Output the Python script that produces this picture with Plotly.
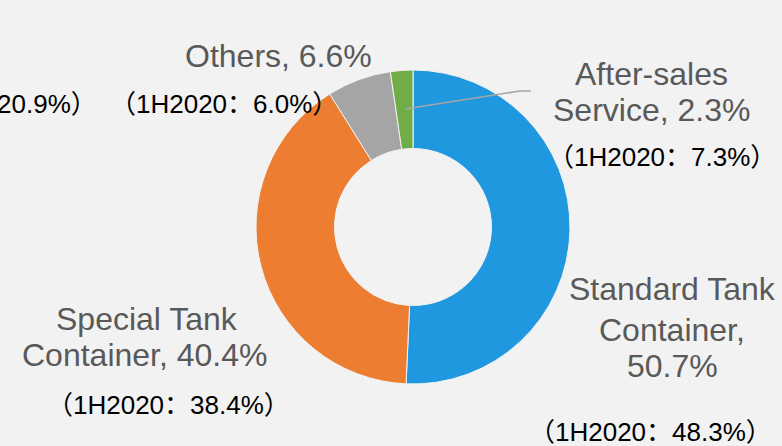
import plotly.graph_objects as go

W, H = 782, 446

segments = ["Standard Tank Container", "Special Tank Container", "Others", "After-sales Service"]
shares_1h2021 = [50.7, 40.4, 6.6, 2.3]
shares_1h2020 = [48.3, 38.4, 6.0, 7.3]
colors = ["#1F98E0", "#ED7D31", "#A5A5A5", "#70AD47"]

# label text lines (as displayed)
label_lines = {
    "Standard Tank Container": ["Standard Tank", "Container,", "{v}%"],
    "Special Tank Container": ["Special Tank", "Container, {v}%"],
    "Others": ["Others, {v}%"],
    "After-sales Service": ["After-sales", "Service, {v}%"],
}
other_chart_prev = 20.9  # partially visible label from a neighbouring chart


def px(x):
    return x / W


def py(y):
    return 1 - y / H


cx, cy, r = 413, 227, 157

fig = go.Figure(go.Pie(
    labels=segments,
    values=shares_1h2021,
    hole=0.5,
    sort=False,
    direction="clockwise",
    rotation=0,
    marker=dict(colors=colors, line=dict(color="#F2F2F2", width=1)),
    textinfo="none",
    hoverinfo="label+percent",
    showlegend=False,
    domain=dict(x=[px(cx - r), px(cx + r)], y=[py(cy + r), py(cy - r)]),
))

gray = "#595959"
fam = "Arial, 'Liberation Sans', 'Noto Sans CJK SC', sans-serif"
gsize = 32
bsize = 26

# pixel centres for each line of each label
label_pos = {
    "Standard Tank Container": [(672, 289), (672, 330), (672, 366)],
    "Special Tank Container": [(147, 319), (145, 355)],
    "Others": [(278, 56)],
    "After-sales Service": [(651, 74), (651, 110)],
}
prev_pos = {
    "Standard Tank Container": (650, 432),
    "Special Tank Container": (168, 405),
    "Others": (224, 104),
    "After-sales Service": (662, 157),
}

annotations = []
for name, v, pv in zip(segments, shares_1h2021, shares_1h2020):
    lines = [l.format(v=v) for l in label_lines[name]]
    for line, (x, y) in zip(lines, label_pos[name]):
        annotations.append(dict(
            x=px(x), y=py(y), xref="paper", yref="paper", showarrow=False,
            text=line, align="center",
            xanchor="center", yanchor="middle",
            font=dict(family=fam, size=gsize, color=gray),
        ))
    x2, y2 = prev_pos[name]
    annotations.append(dict(
        x=px(x2), y=py(y2), xref="paper", yref="paper", showarrow=False,
        text=f"（1H2020：{pv}%）",
        xanchor="center", yanchor="middle",
        font=dict(family=fam, size=bsize, color="#000000"),
    ))

annotations.append(dict(
    x=px(-25), y=py(104), xref="paper", yref="paper", showarrow=False,
    text=f"（1H2020：{other_chart_prev}%）",
    xanchor="center", yanchor="middle",
    font=dict(family=fam, size=bsize, color="#000000"),
))

shapes = [dict(
    type="path", xref="paper", yref="paper",
    path=f"M {px(405)} {py(109)} L {px(520)} {py(91)} L {px(531)} {py(91)}",
    line=dict(color="#A6A6A6", width=1.5),
)]

fig.update_layout(
    width=W, height=H,
    margin=dict(l=0, r=0, t=0, b=0),
    paper_bgcolor="#F2F2F2",
    plot_bgcolor="#F2F2F2",
    annotations=annotations,
    shapes=shapes,
)

fig.write_html(
    "out.html",
    config={"displayModeBar": False},
    post_script="document.body.style.margin='0';document.body.style.background='#F2F2F2';",
)
